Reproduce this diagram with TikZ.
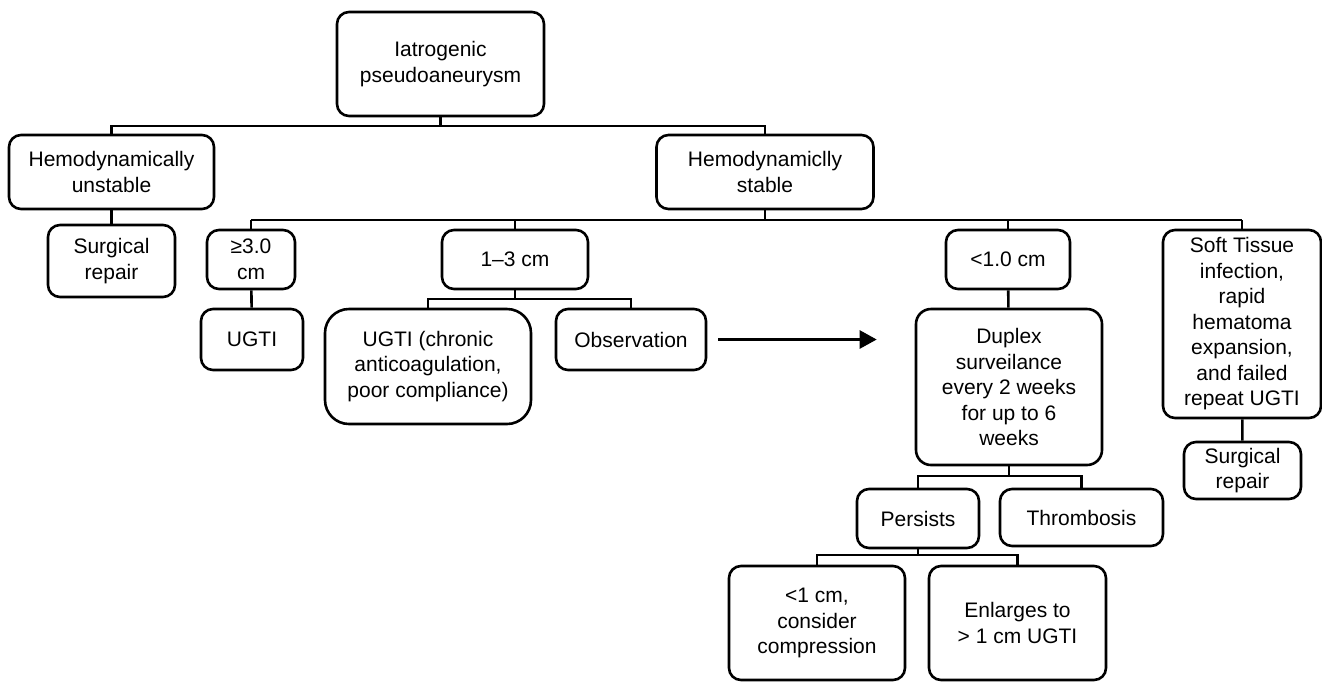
\documentclass[tikz,border=0pt]{standalone}
\usepackage{fontspec}
\setmainfont{Liberation Sans}
\usetikzlibrary{arrows.meta}

\begin{document}
\begin{tikzpicture}[x=1pt,y=-1pt,line width=2.6pt,
  every node/.style={font=\fontsize{21}{25.5}\selectfont},
  box/.style={draw,rounded corners=12pt,align=center,inner sep=0pt},
  arrow/.style={-{Triangle[length=17pt,width=18pt]}}]
\useasboundingbox (0,0) rectangle (1322,681);
% levels of the tree
\node[box,minimum width=207pt,minimum height=104pt] (root) at (440.5,64) {Iatrogenic\\pseudoaneurysm};
\node[box,minimum width=205pt,minimum height=74pt] (unstable) at (111.5,172) {Hemodynamically\\unstable};
\node[box,minimum width=217pt,minimum height=74pt] (stable) at (765,172) {Hemodynamiclly\\stable};
\node[box,minimum width=127pt,minimum height=72pt] (surgA) at (111.5,261) {Surgical\\repair};
\node[box,minimum width=88pt,minimum height=59pt] (large) at (251,259.5) {≥3.0\\cm};
\node[box,minimum width=146pt,minimum height=59pt] (medium) at (515,259.5) {1–3 cm};
\node[box,minimum width=124pt,minimum height=59pt] (small) at (1008,259.5) {<1.0 cm};
\node[box,minimum width=158pt,minimum height=188pt] (soft) at (1242,324) {Soft Tissue\\infection,\\rapid\\hematoma\\expansion,\\and failed\\repeat UGTI};
\node[box,minimum width=102pt,minimum height=61pt] (ugti) at (252,339.5) {UGTI};
\node[box,rounded corners=24pt,minimum width=206pt,minimum height=115pt] (chronic) at (428,366.5) {UGTI (chronic\\anticoagulation,\\poor compliance)};
\node[box,minimum width=150pt,minimum height=61pt] (obs) at (631,339.5) {Observation};
\node[box,rounded corners=15pt,minimum width=186pt,minimum height=156pt] (duplex) at (1009,387) {Duplex\\surveilance\\every 2 weeks\\for up to 6\\weeks};
\node[box,minimum width=117pt,minimum height=57pt] (surgB) at (1242.5,470.5) {Surgical\\repair};
\node[box,minimum width=122pt,minimum height=59pt] (persists) at (918,518.5) {Persists};
\node[box,minimum width=163pt,minimum height=57pt] (thromb) at (1081.5,517.5) {Thrombosis};
\node[box,minimum width=176pt,minimum height=114pt] (compress) at (817,623) {<1 cm,\\consider\\compression};
\node[box,minimum width=177pt,minimum height=114pt] (enlarge) at (1017.5,623) {Enlarges to\\> 1 cm UGTI};

% bus lines
\coordinate (busA) at (0,126);
\coordinate (busB) at (0,220);
\coordinate (busC) at (0,299);
\coordinate (busD) at (0,476);
\coordinate (busE) at (0,555);

\draw (root.south) -- (root.south |- busA);
\draw (unstable.north) |- (root.south |- busA) -| (stable.north);
\draw (unstable) -- (surgA);

\draw (stable.south) -- (stable.south |- busB);
\draw (large.north |- busB) -- (soft.north |- busB);
\foreach \c in {large,medium,small,soft}
  \draw (\c.north) -- (\c.north |- busB);

\draw (large) -- (ugti);
\draw (medium.south) -- (medium.south |- busC);
\draw (chronic.north) |- (medium.south |- busC) -| (obs.north);
\draw (small) -- (duplex);
\draw (soft) -- (surgB);

\draw (duplex.south) -- (duplex.south |- busD);
\draw (persists.north) |- (duplex.south |- busD) -| (thromb.north);
\draw (persists.south) -- (persists.south |- busE);
\draw (compress.north) |- (persists.south |- busE) -| (enlarge.north);

\draw[arrow,shorten <=11pt,shorten >=38pt] (obs.east) -- (obs.east -| duplex.west);
\end{tikzpicture}
\end{document}
